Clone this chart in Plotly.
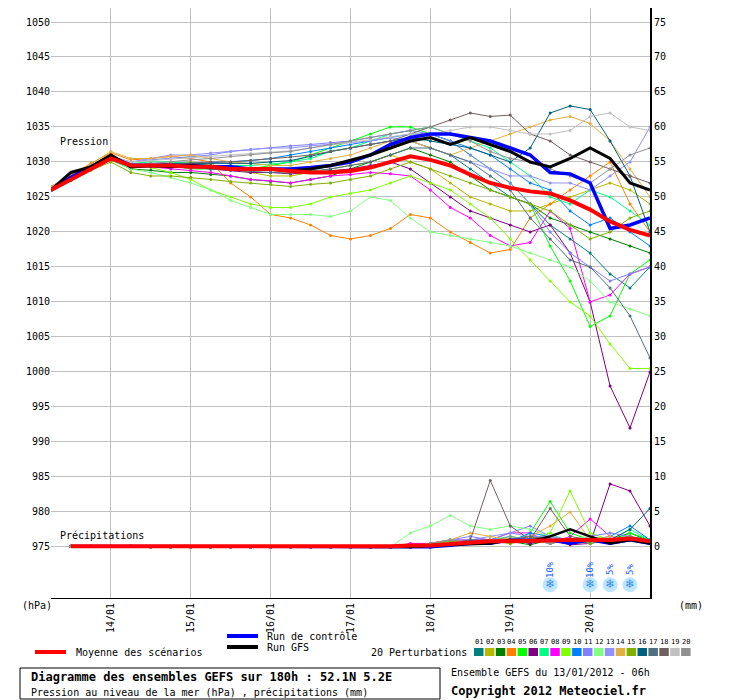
import plotly.graph_objects as go

hours = [6*i for i in range(31)]
colors = ["#008080","#b8b800","#008000","#ff8000","#00ff00","#800080","#00ff80","#ff00ff",
          "#80ff00","#0080ff","#8080ff","#80ff80","#9090ff","#e0b040","#80b000","#006080",
          "#507080","#706060","#c0c0c0","#909090"]

mean_p = [1026,1027.5,1029,1030.5,1029.5,1029.5,1029.5,1029.3,1029.3,1029,1029,1029,1028.7,1028.5,1028.5,1028.7,1029.2,1030,1030.8,1030.3,1029.5,1028.2,1027,1026.3,1025.8,1025.5,1024.5,1023.2,1021.5,1020.3,1019.5]
ctrl_p = [1026,1027.8,1029.3,1030.8,1029.5,1029.5,1029.5,1029.5,1029.3,1029.3,1029,1029,1029,1029.2,1029.5,1030,1031,1032.5,1033.5,1034,1034,1033.5,1033,1032,1031,1028.5,1028.3,1027,1020.5,1021,1022]
gfs_p = [1026,1028.5,1029.3,1031,1029.3,1029.5,1029.3,1029.5,1029.3,1029,1029,1029,1028.7,1029,1029.5,1030.2,1031,1032,1033,1033.5,1032.5,1033.5,1032.5,1031.5,1030,1029.3,1030.5,1032,1030.5,1027,1026]

members_p = [
 [1026,1027.6,1029.2,1030.6,1029.2,1029.4,1029.6,1029.4,1029.2,1029,1028.8,1028.8,1028.6,1029,1029.5,1030,1031,1032,1033,1032,1031,1029,1027,1025,1024,1021,1019,1017,1014,1012,1015],
 [1026.3,1027.8,1029.3,1031,1029.6,1029.6,1029.8,1030,1029.5,1029,1028.5,1028,1028,1028.5,1029,1029.5,1030,1031,1030,1029,1027,1025,1024,1023,1023,1024,1025,1026,1027,1026,1024],
 [1026,1027.5,1029,1030.3,1029,1028.8,1028.5,1028.5,1028.2,1028,1027.5,1027.2,1027,1027.5,1028,1029,1030,1031,1032,1031,1030,1028,1026,1025,1024,1022,1021,1020,1019,1018,1017],
 [1026.5,1028.2,1029.8,1031.3,1030.3,1030.5,1030.8,1030.5,1030,1027,1025,1022.5,1022,1021,1019.5,1019,1019.5,1020.5,1022.5,1022,1020,1018.5,1017,1017.5,1022,1024,1026,1028,1030,1024,1020],
 [1026,1027.7,1029.2,1030.5,1029.5,1029.5,1029.5,1029,1029,1029,1029,1029.5,1030,1031,1032,1033,1034,1035,1035,1034,1033,1031,1029,1027,1024,1018,1013,1006.5,1008,1014,1016],
 [1026,1027.5,1029,1030.5,1029.5,1029.5,1029.3,1029.3,1029,1028.8,1028.5,1028.5,1028.3,1028.5,1028.8,1029,1029.5,1030,1029,1027,1025,1023,1022,1021,1020,1021,1017,1010,998,992,1000],
 [1026,1027.8,1029.5,1030.8,1029.8,1030,1030,1029.8,1029.5,1029.5,1029.5,1029.7,1030,1030.5,1031.5,1032,1033,1034,1034.5,1035,1034,1033,1032,1030,1028,1025,1024,1026,1025,1023,1021],
 [1026,1027.5,1029,1030.3,1029.3,1029.3,1029,1028.8,1028.5,1028,1027.5,1027.3,1027,1027.5,1028,1028.2,1028.5,1028.3,1028,1026,1023.5,1022,1019.5,1018,1018.5,1023,1020.5,1010,1011,1014,1015],
 [1026,1027.7,1029.3,1030.6,1029.6,1029.2,1028.5,1027.5,1026,1025,1024,1023.5,1023.5,1024,1025,1025.5,1026,1027,1028,1027,1026,1024,1022,1019,1016,1013,1010,1008,1004,1000.5,1000.5],
 [1026,1027.6,1029.2,1030.7,1029.7,1029.7,1029.7,1029.8,1029.9,1030,1030.2,1030.5,1031,1031.5,1032,1032.5,1033,1033.5,1034,1034,1033,1032,1031,1029,1027,1026,1023,1021,1022,1020,1018],
 [1026.2,1027.8,1029.4,1030.8,1030,1030.3,1030.5,1030.7,1031,1031.5,1031.8,1032,1032.3,1032.5,1032.8,1033,1033.5,1034,1034.5,1034,1033,1031,1029,1027,1024,1020,1017,1015,1013,1014,1015],
 [1026,1027.5,1029,1030.3,1029,1028.5,1027.8,1027,1026,1024.5,1023.5,1022.5,1022.5,1022.5,1022.2,1023,1025,1024.5,1022,1020,1019.5,1019,1018.5,1018,1017,1016,1015,1013,1010,1009,1008],
 [1026,1027.7,1029.3,1030.6,1030,1030.5,1031,1031,1031.3,1031.5,1031.8,1032,1032,1032.3,1032.5,1032.8,1033,1033.5,1033,1032,1031,1030,1029,1028,1028,1027,1027,1026,1028,1030,1035],
 [1026.5,1028,1029.7,1031.5,1030.5,1030.5,1030.8,1031,1030.5,1030,1029.8,1029.5,1029.5,1030,1030.5,1031,1032,1033,1033,1032,1031,1032,1033,1034,1035,1036,1036.5,1035.5,1033,1029,1025],
 [1026,1027.3,1028.8,1030,1028.5,1028,1028,1027.8,1027.5,1027.2,1027,1026.8,1026.5,1026.8,1027,1027.5,1028,1029,1030,1029,1028,1027,1026,1025,1024,1023,1021,1019,1020,1022,1023],
 [1026,1027.6,1029.2,1030.6,1029.6,1029.6,1029.8,1029.8,1029.8,1029.8,1029.8,1030,1030.2,1030.8,1031.5,1032,1032.5,1033,1033.5,1033,1032.5,1032,1031,1030,1032,1037,1038,1037.5,1033,1028,1020],
 [1026,1027.5,1029,1030.3,1029.3,1029.3,1029.3,1029.2,1029,1028.8,1028.7,1028.5,1028.4,1028.7,1029,1029.5,1030,1031,1032,1032,1031,1030,1028,1026,1022,1019,1016,1015,1012,1008,1002],
 [1026,1027.6,1029.2,1030.6,1029.4,1029.5,1029.7,1029.8,1030,1030,1030.2,1030.5,1030.7,1031,1031.5,1032,1032.5,1033,1034,1035,1036,1037,1036.5,1036.7,1034,1033,1031,1030,1029,1028,1027],
 [1026.2,1027.8,1029.3,1030.8,1030,1030.2,1030.4,1030.6,1030.8,1031,1031.2,1031.4,1031.6,1032,1032.4,1032.8,1033.2,1033.6,1034,1034,1034.5,1035,1035,1034.5,1034,1034,1034.5,1036.5,1037,1035,1034.5],
 [1026,1027.5,1029,1030.5,1029.5,1029.8,1030,1030.3,1030.5,1030.8,1031,1031.3,1031.5,1032,1032.5,1033,1033.5,1034,1034.5,1035,1034,1033,1031.5,1030.5,1030,1029,1028,1027,1029,1031,1032],
]

Z = [0.1,0.1,0.1,0.1,0.1,0,0,0,0,0,0,0,0,0,0,0]
members_r = [
 Z+[0,0,0,0.3,0.5,0.5,0.8,1,0.5,1.5,1,0.5,1,1.5,0.5],
 Z+[0,0,0,0.5,0.3,0.5,1,1.2,1.5,1,0.8,1.5,1,1,0.5],
 Z+[0,0,0,0,0.5,1,0.5,0.8,0.3,1,0.5,0.8,1,2,0.8],
 Z+[0,0,0.2,0.5,1,0.8,0.5,1,1.5,0.5,1,0.8,0.5,1,0.5],
 Z+[0,0,0,0.5,1,0.5,1,0.5,2,6.5,2,1,0.5,2,1],
 Z+[0,0,0,0,0.3,0.5,0.5,1,0.5,1,0.3,0.5,9,8,3],
 Z+[0,0,0,0.5,0.8,0.5,1,1.5,1,2,0.5,1,1,2.5,1],
 Z+[0,0,0.5,0.5,1,1,1,2,2,0.5,1.5,4,1.5,1,0.5],
 Z+[0,0,0,0.5,1,0.5,0.8,1,1,2,8,2,1,1.5,0.5],
 Z+[0,0,0,0.3,0.5,1,0.5,0.8,2,1.5,0.5,1,1.5,3,1],
 Z+[0,0,0,0.5,1,1.5,1,2,3,1.5,1,1.5,2,1.5,0.5],
 Z+[0,0,2,3,4.5,3,2.5,3,2.5,1.5,1,1.5,0.5,1,0.5],
 Z+[0,0,0,0.5,1,1,1.5,2,1.5,1.5,1,0.5,1,1.5,0.5],
 Z+[0,0,0,0.5,1,2,1.5,1,1.5,3,5,1,1.5,1,0.5],
 Z+[0,0,0,0.3,0.8,0.5,1,0.5,1,0.5,1,0.5,1,1.5,0.8],
 Z+[0,0,0,0.3,0.5,0.5,0.8,1,1,0.5,1,1,1,2.5,5.5],
 Z+[0,0,0,0.5,0.5,1,1,1,1.5,1,0.5,0.8,1,1.5,1],
 Z+[0,0,0,0,0.5,1,9.5,3,1,5.5,1.5,1,0.5,1,0.5],
 Z+[0,0,0,0.3,0.5,0.5,1,1,1,0.5,1,1,0.5,1,0.5],
 Z+[0,0,0,0.5,1,0.5,0.8,1.5,1,0.5,1,1,1,1.5,0.5],
]
mean_r = Z+[0,0.1,0.2,0.2,0.4,0.6,0.8,0.8,0.9,1,1,1,1,1.2,0.8]
ctrl_r = Z+[0,0,0,0,0.2,0.5,0.5,1,1,1,0.5,1,0.5,1,0.5]
gfs_r = Z+[0,0,0,0.2,0.3,0.5,0.5,1,0.8,1.5,2.5,1.5,0.5,1,0.5]

snow_hours = [150, 162, 168, 174]
snow_text = ["10%", "10%", "5%", "5%"]
day_hours = [18, 42, 66, 90, 114, 138, 162]
day_labels = ["14/01","15/01","16/01","17/01","18/01","19/01","20/01"]
BASE = 975

fig = go.Figure()
def line(x, y, c, w, ms):
    fig.add_trace(go.Scatter(x=x, y=y, mode="lines+markers" if ms else "lines",
        line=dict(color=c, width=w), marker=dict(size=ms, color=c), showlegend=False, hoverinfo="skip"))
for m, c in zip(members_p, colors):
    line(hours, m, c, 1, 3)
rh = hours[1:]
for m, c in zip(members_r, colors):
    line(rh, [BASE+v for v in m[1:]], c, 1, 3)
line(hours, ctrl_p, "#0000ff", 3.5, 0); line(hours, gfs_p, "#000000", 3, 0); line(hours, mean_p, "#ff0000", 4, 0)
line(rh, [BASE+v for v in ctrl_r[1:]], "#0000ff", 3, 0); line(rh, [BASE+v for v in gfs_r[1:]], "#000000", 2.5, 0)
line(rh, [BASE+v for v in mean_r[1:]], "#ff0000", 4, 0)
fig.add_trace(go.Scatter(x=snow_hours, y=[969.6]*4, mode="markers+text", text=["❄"]*4,
    marker=dict(size=15, color="#bfe6ff", line=dict(width=0)),
    textfont=dict(size=13, color="#2f8fe0"), showlegend=False, hoverinfo="skip"))
fig.add_trace(go.Scatter(x=[0], y=[0], yaxis="y2", mode="markers", marker=dict(opacity=0), showlegend=False, hoverinfo="skip"))

F = "DejaVu Sans Mono"
fig.update_layout(width=732, height=692, margin=dict(l=43, r=90, t=0, b=102),
    paper_bgcolor="white", plot_bgcolor="white", font=dict(family=F, size=10, color="black"),
    xaxis=dict(range=[0, 180], tickvals=day_hours, ticktext=day_labels, tickangle=-90,
               showgrid=True, gridcolor="#c0c0c0", zeroline=False, showline=True, linecolor="black",
               ticks="", tickfont=dict(family=F, size=10)),
    yaxis=dict(range=[967.7, 1052.0], tickvals=list(range(975, 1051, 5)), showgrid=True,
               gridcolor="#c0c0c0", zeroline=False, ticks="", tickfont=dict(family=F, size=10)),
    yaxis2=dict(range=[-7.3, 77.0], tickvals=list(range(0, 76, 5)), overlaying="y", side="right",
                showgrid=False, zeroline=False, showline=True, linecolor="black", linewidth=2, ticks="",
                tickfont=dict(family=F, size=10)))

def px(v): return (v-51)/599
def py(v): return (598-v)/590
ann = []
def txt(x, y, s, size=10, bold=False, anchor="left", col="black", angle=0):
    ann.append(dict(x=px(x), y=py(y), xref="paper", yref="paper", text=("<b>%s</b>" % s) if bold else s,
        showarrow=False, xanchor=anchor, yanchor="middle", textangle=angle,
        font=dict(family=F, size=size, color=col)))
txt(58, 141, "Pression"); txt(58, 535, "Précipitations")
txt(20, 605, "(hPa)"); txt(677, 605, "(mm)")
for h, s in zip(snow_hours, snow_text):
    txt(50 + h*600/180, 570, s, size=9, anchor="center", col="#2060ff", angle=-90)
txt(74, 652, "Moyenne des scénarios"); txt(265, 636, "Run de contrôle"); txt(265, 647, "Run GFS")
txt(369, 652, "20 Perturbations")
shapes = [
    dict(type="line", xref="paper", yref="paper", x0=px(35), x1=px(66), y0=py(652), y1=py(652), line=dict(color="red", width=4)),
    dict(type="line", xref="paper", yref="paper", x0=px(227), x1=px(258), y0=py(636), y1=py(636), line=dict(color="blue", width=4)),
    dict(type="line", xref="paper", yref="paper", x0=px(227), x1=px(258), y0=py(647), y1=py(647), line=dict(color="black", width=4)),
    dict(type="rect", xref="paper", yref="paper", x0=px(20), x1=px(440), y0=py(668), y1=py(699), line=dict(color="black", width=1)),
]
for i, c in enumerate(colors):
    x0 = 474 + i*10.9
    shapes.append(dict(type="rect", xref="paper", yref="paper", x0=px(x0), x1=px(x0+9.5), y0=py(648), y1=py(656),
                       fillcolor=c, line=dict(width=0)))
    txt(x0+4.7, 642, "%02d" % (i+1), size=7, anchor="center")
txt(29, 677, "Diagramme des ensembles GEFS sur 180h : 52.1N 5.2E", size=12, bold=True)
txt(29, 692, "Pression au niveau de la mer (hPa) , précipitations (mm)", size=10)
txt(449, 672, "Ensemble GEFS du 13/01/2012 - 06h", size=10)
txt(449, 691, "Copyright 2012 Meteociel.fr", size=12, bold=True)
fig.update_layout(annotations=ann, shapes=shapes)
fig.write_html("out.html")
